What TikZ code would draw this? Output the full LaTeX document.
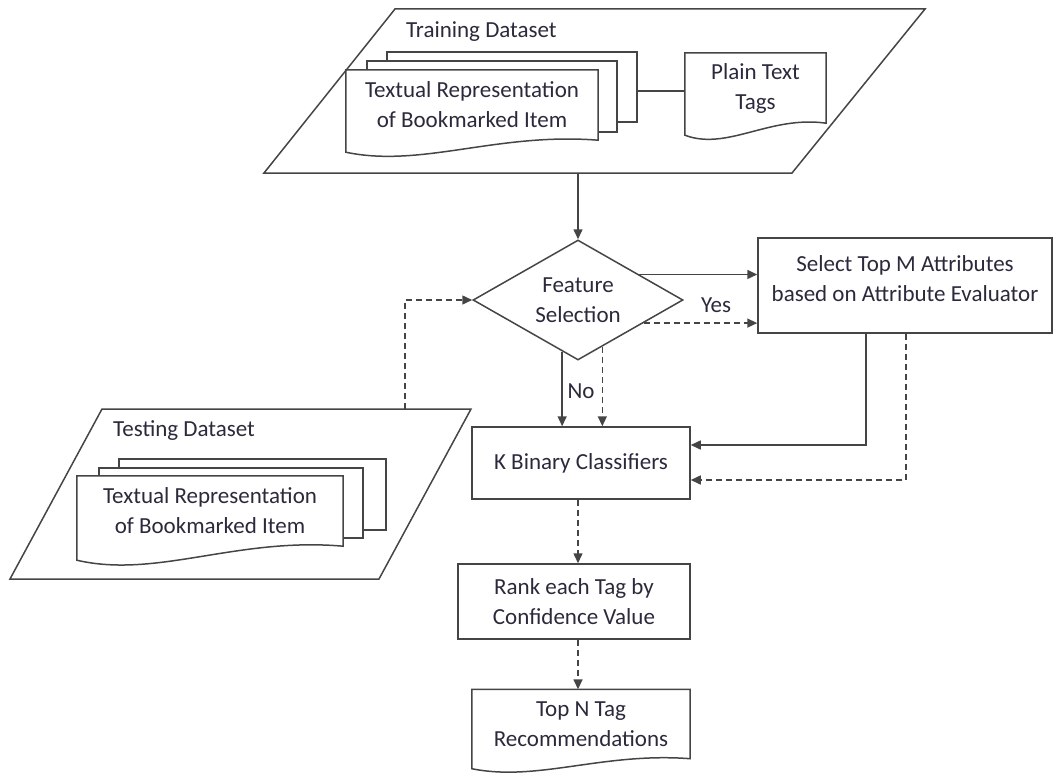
\documentclass[tikz,border=0pt]{standalone}
\usepackage{fontspec}
\setmainfont{Carlito}
\usetikzlibrary{arrows.meta,shapes.geometric,calc}
\definecolor{ln}{HTML}{454545}
\definecolor{tx}{HTML}{2A2A3C}
\tikzset{
  txt/.style={font=\fontsize{23}{30}\selectfont, text=tx, align=center, inner sep=0pt},
  shp/.style={draw=ln, line width=1.5pt, line join=miter},
  box/.style={txt, shp, rectangle},
  docn/.style={txt, rectangle, draw=none},
  dia/.style={txt, shp, diamond, minimum width=210pt, minimum height=120pt, aspect=1.75},
  arr/.style={draw=ln, line width=1.5pt, -{Triangle[length=10pt,width=9pt]}},
  dsh/.style={dash pattern=on 6pt off 4pt},
}
\newcommand\docwave[2]{%
  \draw[shp] ($(#1.south west)+(0,#2)$) -- (#1.north west) -- (#1.north east) -- (#1.south east)
    .. controls ($(#1.south west)!0.6!(#1.south east)+(0,-0.67*#2)$)
       and ($(#1.south west)!0.3!(#1.south east)+(0,2.33*#2)$) .. ($(#1.south west)+(0,#2)$) -- cycle;}
\begin{document}
\begin{tikzpicture}[x=1pt,y=-1pt]
\useasboundingbox (0,0) rectangle (1057,776);

% Training dataset
\coordinate (trTL) at (395,9);
\coordinate (trTR) at (925,9);
\coordinate (trBR) at (792,173);
\coordinate (trBL) at (264,173);
\coordinate (trout) at (578,173);
\draw[shp] (trTL) -- (trTR) -- (trBR) -- (trBL) -- cycle;
\node[txt, anchor=west] (trt) at (406,32) {Training Dataset};
\draw[shp] (387,61) -- (387,52) -- (637,52) -- (637,122) -- (617,122);
\draw[shp] (367,70) -- (367,61) -- (617,61) -- (617,132) -- (598,132);
\node[docn, minimum width=252pt, minimum height=70pt] (trd) at (472,105) {Textual Representation\\of Bookmarked Item};
\docwave{trd}{12}
\node[docn, minimum width=141pt, minimum height=70pt] (ptt) at (755.5,88) {Plain Text\\Tags};
\docwave{ptt}{12}
\coordinate (trback) at (637,91);
\draw[shp] (trback) -- (trback -| ptt.west);

% Testing dataset
\coordinate (teTL) at (102,409);
\coordinate (teTR) at (471,409);
\coordinate (teBR) at (379,579);
\coordinate (teBL) at (10,579);
\coordinate (teout) at (405,409);
\draw[shp] (teTL) -- (teTR) -- (teBR) -- (teBL) -- cycle;
\node[txt, anchor=west] (tet) at (113,431) {Testing Dataset};
\draw[shp] (119,468) -- (119,459) -- (386,459) -- (386,530) -- (363,530);
\draw[shp] (99,476) -- (99,468) -- (363,468) -- (363,538) -- (343,538);
\node[docn, minimum width=266pt, minimum height=70pt] (ted) at (210,511) {Textual Representation\\of Bookmarked Item};
\docwave{ted}{14}

% Process
\node[dia] (fs) at (578,300) {Feature\\Selection};
\node[box, minimum width=294pt, minimum height=95pt] (sel) at (905,285.5) {};
\node[txt] (selt) at (905,279) {Select Top M Attributes\\based on Attribute Evaluator};
\node[box, minimum width=218pt, minimum height=72pt] (kb) at (581,463) {K Binary Classifiers};
\node[box, minimum width=232pt, minimum height=75pt] (rk) at (574,601.5) {Rank each Tag by\\Confidence Value};
\node[docn, minimum width=218pt, minimum height=69pt] (tn) at (581,724) {Top N Tag\\Recommendations};
\docwave{tn}{10}

% Connectors
\draw[arr] (trout) -- (fs.north);
\coordinate (a1) at ($(fs.north)!0.58!(fs.east)$);
\draw[arr] (a1) -- (a1 -| sel.west);
\coordinate (a2) at ($(fs.south)!0.62!(fs.east)$);
\draw[arr,dsh] (a2) -- (a2 -| sel.west);
\node[txt] (yes) at (716,305) {Yes};
\draw[arr,dsh] (teout) |- (fs.west);
\coordinate (a3) at ($(fs.south)!0.15!(fs.west)$);
\draw[arr] (a3) -- (a3 |- kb.north);
\coordinate (a4) at ($(fs.south)!0.23!(fs.east)$);
\draw[arr,dsh] (a4) -- (a4 |- kb.north);
\node[txt] (no) at (581,391) {No};
\draw[arr] ([xshift=-39pt]sel.south) |- ([yshift=18pt]kb.east);
\draw[arr,dsh] ([xshift=1pt]sel.south) |- ([yshift=-17pt]kb.east);
\coordinate (cx) at (578,0);
\draw[arr,dsh] (kb.south -| cx) -- (rk.north -| cx);
\draw[arr,dsh] (rk.south -| cx) -- (tn.north -| cx);
\end{tikzpicture}
\end{document}
